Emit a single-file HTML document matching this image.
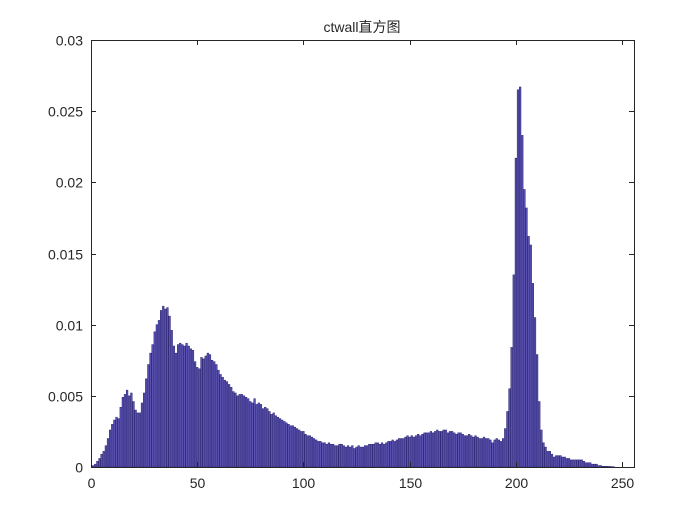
<!DOCTYPE html>
<html><head><meta charset="utf-8"><style>
body{margin:0;background:#fff}
svg text{font-family:"Liberation Sans","Noto Sans CJK SC",sans-serif;fill:#262626}
</style></head><body>
<svg id="chart" width="700" height="525" xmlns="http://www.w3.org/2000/svg">
<rect width="700" height="525" fill="#fff"/>
<text x="362" y="32" font-size="14" text-anchor="middle">ctwall直方图</text>
<g id="bars"></g>
<g id="axes"></g>
</svg>
<script>
const yTicks=[0,0.005,0.01,0.015,0.02,0.025,0.03];
const yTickLabels=["0","0.005","0.01","0.015","0.02","0.025","0.03"];
const xTicks=[0,50,100,150,200,250];
const xTickLabels=["0","50","100","150","200","250"];
const values=[0.1,0.2,0.4,0.6,0.9,1.1,1.5,2.0,2.6,3.0,
3.3,3.5,3.4,4.2,4.9,5.1,5.4,5.0,5.2,4.6,
4.0,3.8,3.8,4.5,5.2,6.2,7.2,8.0,8.6,9.5,
10.0,10.3,11.0,11.3,11.1,11.2,10.6,9.6,8.5,8.0,
8.6,8.7,8.6,8.5,8.7,8.5,8.3,8.2,7.4,7.0,
6.9,7.7,7.6,7.8,8.0,7.9,7.5,7.4,7.2,6.8,
6.5,6.3,6.1,6.0,5.8,5.6,5.3,5.2,5.0,5.1,
5.1,5.0,4.9,4.8,4.6,4.5,4.8,4.4,4.5,4.4,
4.1,4.2,4.1,3.9,3.7,3.8,3.6,3.5,3.4,3.3,
3.2,3.1,3.0,2.9,2.9,2.8,2.7,2.6,2.5,2.5,
2.3,2.2,2.2,2.1,2.0,1.9,1.8,1.8,1.7,1.7,
1.6,1.7,1.6,1.6,1.5,1.5,1.6,1.6,1.5,1.4,
1.5,1.4,1.5,1.3,1.4,1.5,1.4,1.4,1.5,1.5,
1.6,1.6,1.6,1.7,1.7,1.6,1.7,1.6,1.7,1.8,
1.8,1.9,1.8,1.9,2.0,2.0,2.0,2.1,2.2,2.1,
2.2,2.1,2.2,2.3,2.2,2.3,2.4,2.4,2.4,2.5,
2.4,2.5,2.6,2.5,2.5,2.6,2.6,2.4,2.5,2.5,
2.4,2.3,2.4,2.4,2.3,2.2,2.2,2.3,2.2,2.1,
2.2,2.1,2.0,2.0,2.1,2.0,2.0,1.9,1.7,1.9,
2.0,1.9,1.8,2.0,2.7,3.9,5.5,8.4,13.5,21.7,
26.5,26.7,23.3,19.5,18.2,16.2,15.6,12.9,10.5,7.9,
4.6,2.6,1.7,1.4,1.1,1.1,0.9,0.7,0.8,0.8,
0.8,0.7,0.7,0.6,0.6,0.5,0.5,0.5,0.5,0.5,
0.5,0.4,0.3,0.3,0.3,0.2,0.2,0.2,0.1,0.1,
0.05,0.05,0.05,0.04,0.03,0.02,0,0,0,0,0,0].map(v=>v/1000);
const L=91,R=634,T=40,B=467;
const xMin=0,xMax=255.6,yMin=0,yMax=0.03;
const sx=v=>L+(v-xMin)/(xMax-xMin)*(R-L);
const sy=v=>B-(v-yMin)/(yMax-yMin)*(B-T);
const NS="http://www.w3.org/2000/svg";
const bars=document.getElementById('bars');
const bw=0.8;
values.forEach((v,i)=>{
  const c=i+1;
  if(c+bw/2>xMax) return;
  const r=document.createElementNS(NS,'rect');
  const x0=sx(c-bw/2),x1=sx(c+bw/2);
  r.setAttribute('x',x0);r.setAttribute('width',x1-x0);
  r.setAttribute('y',sy(v));r.setAttribute('height',Math.max(0,B-sy(v)));
  r.setAttribute('fill','#5a52ae');r.setAttribute('stroke','#2b2478');r.setAttribute('stroke-width','0.5');
  
  
  bars.appendChild(r);
});
const ax=document.getElementById('axes');
function line(x1,y1,x2,y2,name){
  const l=document.createElementNS(NS,'line');
  l.setAttribute('x1',x1);l.setAttribute('y1',y1);l.setAttribute('x2',x2);l.setAttribute('y2',y2);
  l.setAttribute('stroke','#262626');l.setAttribute('stroke-width','1');
  
  
  ax.appendChild(l);
}
function text(x,y,s,anchor,name){
  const t=document.createElementNS(NS,'text');
  t.setAttribute('x',x);t.setAttribute('y',y);t.setAttribute('font-size','14');t.setAttribute('text-anchor',anchor);
  t.textContent=s;
  
  
  ax.appendChild(t);
}
const box=document.createElementNS(NS,'rect');
box.setAttribute('x',L+0.5);box.setAttribute('y',T+0.5);box.setAttribute('width',R-L);box.setAttribute('height',B-T);
box.setAttribute('fill','none');box.setAttribute('stroke','#262626');


ax.appendChild(box);
yTicks.forEach((v,i)=>{
  const y=Math.round(sy(v))+0.5;
  line(L,y,L+5,y,'y-tick');
  line(R-5,y,R,y,'y-tick-right');
  text(L-8,y+5,yTickLabels[i],'end','y-tick-label');
});
xTicks.forEach((v,i)=>{
  const x=Math.round(sx(v))+0.5;
  line(x,B,x,B-5,'x-tick');
  line(x,T,x,T+5,'x-tick-top');
  text(x,B+21,xTickLabels[i],'middle','x-tick-label');
});
</script>
</body></html>
